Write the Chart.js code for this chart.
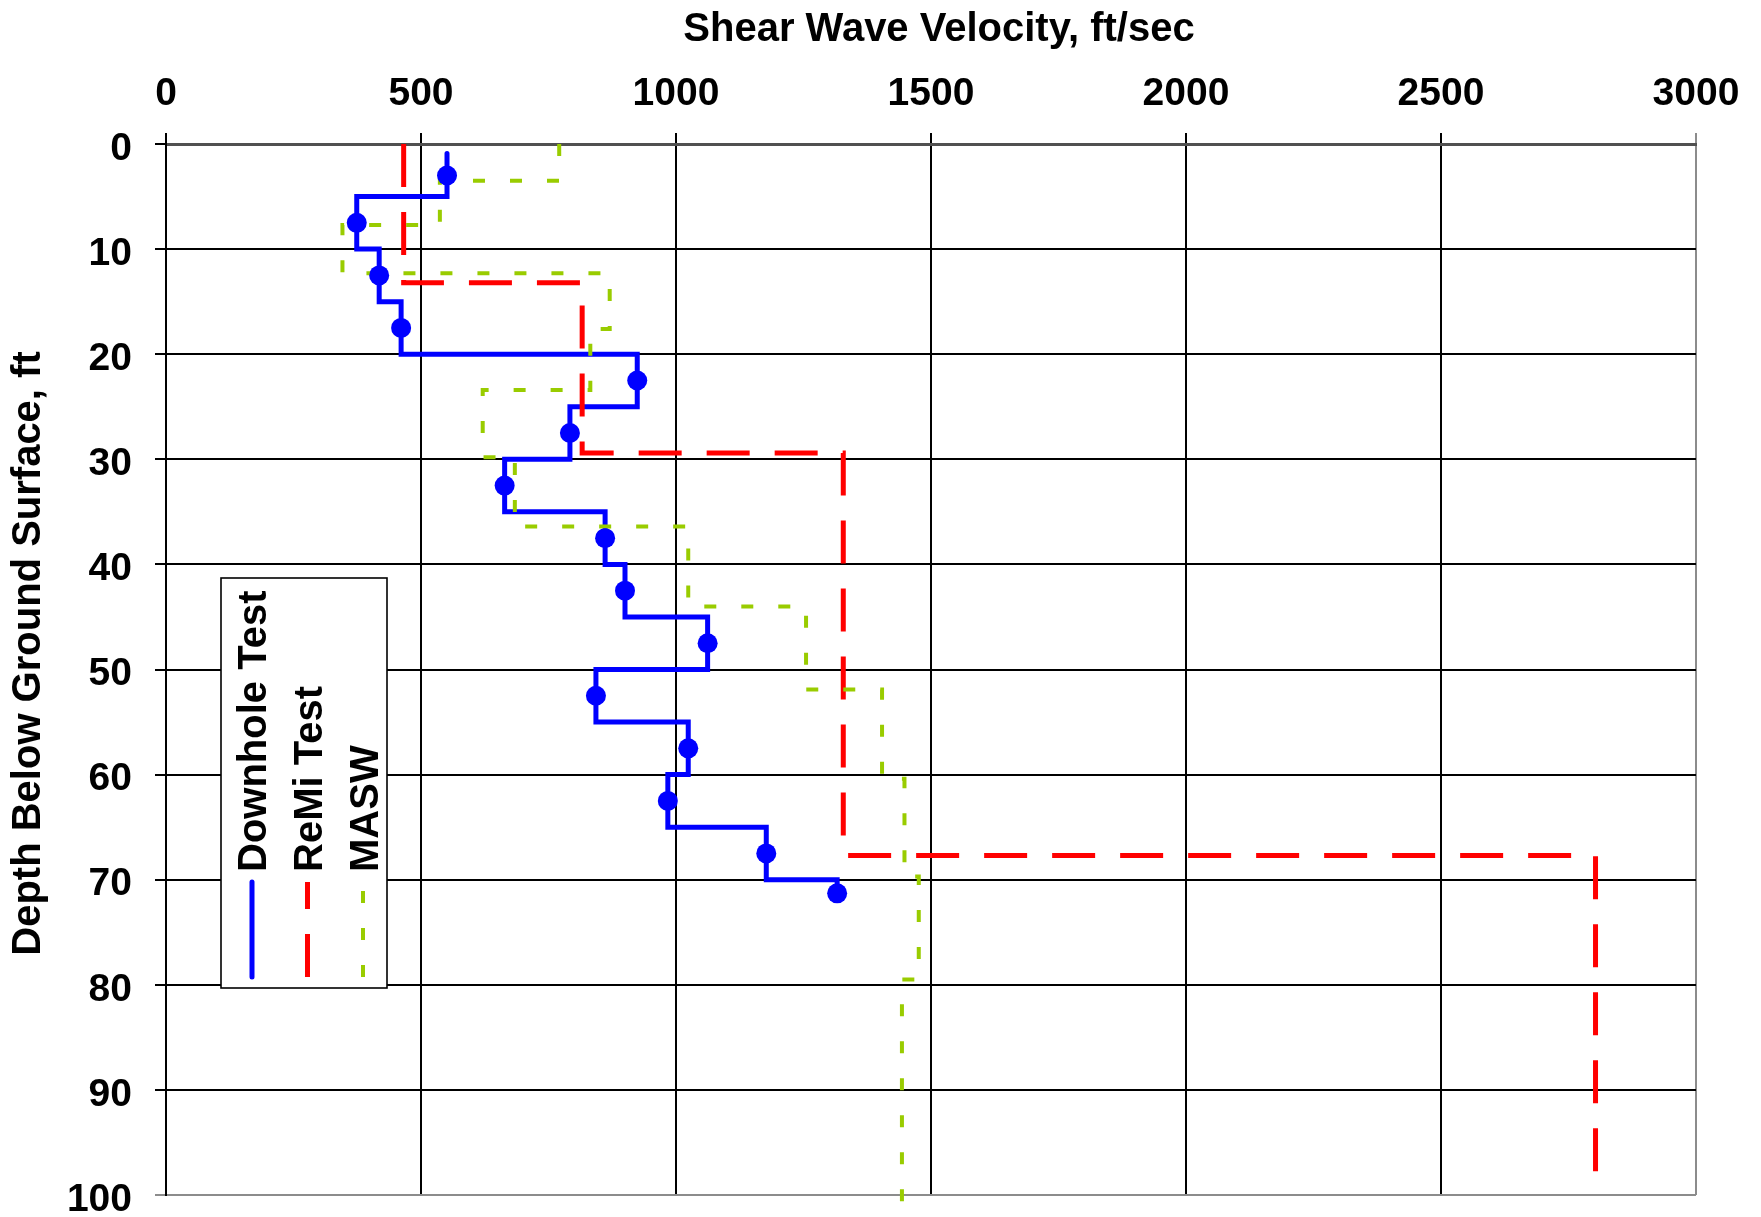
<!DOCTYPE html>
<html>
<head>
<meta charset="utf-8">
<script src="https://cdn.jsdelivr.net/npm/chart.js@4.4.1/dist/chart.umd.min.js"></script>
<style>
html,body{margin:0;padding:0;background:#ffffff;}
#wrap{width:1761px;height:1217px;}
</style>
</head>
<body>
<div id="wrap"><canvas id="c" width="1761" height="1217"></canvas></div>
<script>
// ---- Data ----
const xTickValues = [0, 500, 1000, 1500, 2000, 2500, 3000];
const yTickValues = [0, 10, 20, 30, 40, 50, 60, 70, 80, 90, 100];

const xTitle = 'Shear Wave Velocity, ft/sec';
const yTitle = 'Depth Below Ground Surface, ft';
const seriesNames = ['Downhole Test', 'ReMi Test', 'MASW'];

// Downhole Test: layer velocities (ft/sec) with top/bottom depths (ft), marker depths
const downholeVel    = [551, 374, 418, 461, 924, 792, 664, 861, 900, 1062, 843, 1024, 984, 1177, 1316];
const downholeTop    = [0.9, 5, 10, 15, 20, 25, 30, 35, 40, 45, 50, 55, 60, 65, 70];
const downholeBottom = [5, 10, 15, 20, 25, 30, 35, 40, 45, 50, 55, 60, 65, 70, 71.3];
const downholeMarkerDepth = [3, 7.5, 12.5, 17.5, 22.5, 27.5, 32.5, 37.5, 42.5, 47.5, 52.5, 57.5, 62.5, 67.5, 71.3];

// ReMi Test
const remiVel    = [466, 816, 1328, 2803];
const remiTop    = [0, 13.2, 29.4, 67.7];
const remiBottom = [13.2, 29.4, 67.7, 100];

// MASW
const maswVel    = [771, 537, 346, 870, 832, 621, 684, 1024, 1255, 1404, 1448, 1476, 1443];
const maswTop    = [0, 3.5, 7.7, 12.3, 17.6, 23.4, 29.8, 36.4, 44.0, 51.9, 60.4, 69.7, 79.5];
const maswBottom = [3.5, 7.7, 12.3, 17.6, 23.4, 29.8, 36.4, 44.0, 51.9, 60.4, 69.7, 79.5, 100.8];

// ---- Styles ----
const FONT = "'Liberation Sans', Arial, sans-serif";
const BLUE = '#0000ff', RED = '#ff0000', GREEN = '#99cc00';
const REMI_DASH = [43, 25], MASW_DASH = [12, 25];

function stepPoints(vel, top, bottom) {
  const pts = [];
  vel.forEach((v, i) => { pts.push({x: v, y: top[i]}); pts.push({x: v, y: bottom[i]}); });
  return pts;
}
const markerPoints = downholeVel.map((v, i) => ({x: v, y: downholeMarkerDepth[i]}));

const legendPlugin = {
  id: 'rotLegend',
  beforeDatasetsDraw(chart) {
    const ctx = chart.ctx, a = chart.chartArea;
    const bx = a.left + 55, by = a.top + 434, bw = 166, bh = 410;
    ctx.save();
    ctx.fillStyle = '#ffffff';
    ctx.fillRect(bx, by, bw, bh);
    ctx.strokeStyle = '#000000';
    ctx.lineWidth = 1.6;
    ctx.strokeRect(bx, by, bw, bh);
    const entries = [
      {name: seriesNames[0], color: BLUE, dash: [], width: 5, cap: 'round'},
      {name: seriesNames[1], color: RED, dash: REMI_DASH, width: 5, cap: 'butt'},
      {name: seriesNames[2], color: GREEN, dash: MASW_DASH, width: 4, cap: 'butt'}
    ];
    entries.forEach((e, i) => {
      const lx = bx + 31 + i * 55.5;
      ctx.save();
      ctx.strokeStyle = e.color;
      ctx.lineWidth = e.width;
      ctx.lineCap = e.cap;
      ctx.setLineDash(e.dash);
      ctx.beginPath();
      ctx.moveTo(lx, by + 399);
      ctx.lineTo(lx, by + 304);
      ctx.stroke();
      ctx.restore();
      ctx.save();
      ctx.translate(bx + 45 + i * 56, by + 294);
      ctx.rotate(-Math.PI / 2);
      ctx.fillStyle = '#000000';
      ctx.font = 'bold 40px ' + FONT;
      ctx.textAlign = 'left';
      ctx.textBaseline = 'alphabetic';
      ctx.fillText(e.name, 0, 0);
      ctx.restore();
    });
    ctx.restore();
  },
  afterDraw(chart) {
    const ctx = chart.ctx, a = chart.chartArea;
    ctx.save();
    ctx.fillStyle = '#000000';
    ctx.font = 'bold 40px ' + FONT;
    ctx.textAlign = 'center';
    ctx.textBaseline = 'middle';
    ctx.fillText(xTitle, (a.left + a.right) / 2 + 8, 30);
    ctx.translate(29, (a.top + a.bottom) / 2 - 16);
    ctx.rotate(-Math.PI / 2);
    ctx.fillText(yTitle, 0, 0);
    ctx.restore();
  }
};

const tickFont = {family: FONT, size: 39, weight: 'bold'};
const plain = v => String(v);

new Chart(document.getElementById('c'), {
  type: 'scatter',
  data: {
    datasets: [
      {label: seriesNames[0] + ' markers', data: markerPoints, showLine: false,
       pointStyle: 'circle', pointRadius: 10, pointBackgroundColor: BLUE, pointBorderColor: BLUE,
       pointBorderWidth: 0, order: 0},
      {label: seriesNames[2], data: stepPoints(maswVel, maswTop, maswBottom), showLine: true,
       borderColor: GREEN, borderWidth: 4, borderDash: MASW_DASH, borderCapStyle: 'butt',
       pointRadius: 0, tension: 0, fill: false, clip: false, order: 1},
      {label: seriesNames[1], data: stepPoints(remiVel, remiTop, remiBottom), showLine: true,
       borderColor: RED, borderWidth: 5, borderDash: REMI_DASH, borderCapStyle: 'butt',
       pointRadius: 0, tension: 0, fill: false, order: 2},
      {label: seriesNames[0], data: stepPoints(downholeVel, downholeTop, downholeBottom), showLine: true,
       borderColor: BLUE, borderWidth: 5, borderJoinStyle: 'miter', borderCapStyle: 'round',
       pointRadius: 0, tension: 0, fill: false, order: 3}
    ]
  },
  options: {
    responsive: false,
    animation: false,
    devicePixelRatio: 1,
    layout: {padding: {left: 0, top: 0, right: 65, bottom: 22}},
    plugins: {legend: {display: false}, tooltip: {enabled: false}},
    scales: {
      x: {
        type: 'linear', position: 'top', min: 0, max: 3000,
        afterBuildTicks: s => { s.ticks = xTickValues.map(v => ({value: v})); },
        afterFit: s => { s.height = 144; s.paddingLeft = 0; s.paddingRight = 0; },
        ticks: {font: tickFont, color: '#000', padding: 15, maxRotation: 0, autoSkip: false, callback: plain},
        grid: {color: c => (c.tick && c.tick.value === 3000) ? '#8c8c8c' : '#000000',
               lineWidth: 2, tickLength: 11},
        border: {display: true, color: '#505050', width: 3}
      },
      y: {
        type: 'linear', reverse: true, min: 0, max: 100,
        afterBuildTicks: s => { s.ticks = yTickValues.map(v => ({value: v})); },
        afterFit: s => { s.width = 166; s.paddingTop = 0; s.paddingBottom = 0; },
        ticks: {font: tickFont, color: '#000', padding: 23, labelOffset: 5, autoSkip: false, callback: plain},
        grid: {color: c => (c.tick && c.tick.value === 100) ? '#8c8c8c' : '#000000',
               lineWidth: 2, tickLength: 11},
        border: {display: true, color: '#000000', width: 2}
      }
    }
  },
  plugins: [legendPlugin]
});
</script>
</body>
</html>
